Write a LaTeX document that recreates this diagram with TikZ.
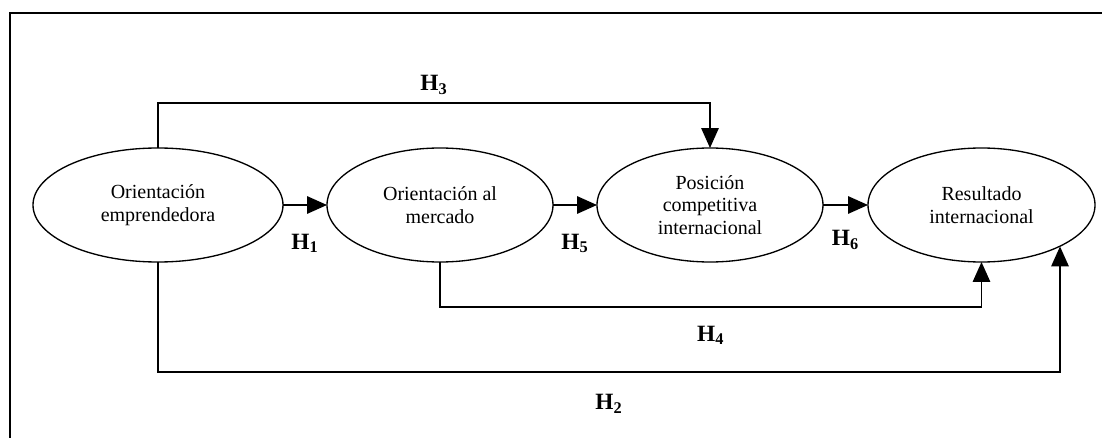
\documentclass[tikz,border=0pt]{standalone}
\usepackage{fontspec}
\setmainfont{Liberation Serif}
\usetikzlibrary{shapes.geometric,arrows.meta}
\tikzset{
    var/.style={draw, ellipse, line width=0.8pt, inner sep=0pt, outer sep=0pt,
        minimum height=68.4pt, align=center, font=\fontsize{12}{13.5}\selectfont},
    conn/.style={line width=0.9pt, -{Triangle[length=12pt,width=10.5pt]}},
    hyp/.style={font=\fontsize{14}{16}\selectfont\bfseries},
}
\newcommand{\hyp}[1]{H\textsubscript{#1}}

\begin{document}
\begin{tikzpicture}[x=0.6pt,y=-0.6pt]
    \clip (0,0) rectangle (1102,438);
    % frame
    \draw[line width=1.2pt] (9.5,13) rectangle (1120,460);

    % constructs
    \node[var, minimum width=150pt] (oe) at (158,205) {Orientación\\emprendedora};
    \node[var, minimum width=135.6pt] (om) at (440,205) {Orientación al\\mercado};
    \node[var, minimum width=135.6pt] (pc) at (710,205) {Posición\\competitiva\\internacional};
    \node[var, minimum width=136.2pt] (ri) at (981.5,205) {Resultado\\internacional};

    % direct paths
    \draw[conn] (oe) -- (om) node[hyp, midway, yshift=-23pt] {\hyp{1}};
    \draw[conn] (om) -- (pc) node[hyp, midway, yshift=-23pt] {\hyp{5}};
    \draw[conn] (pc) -- (ri) node[hyp, midway, yshift=-21pt] {\hyp{6}};

    % bypass paths
    \draw[conn] (oe.north) -- ++(0,-45) -| node[hyp, pos=0.25, yshift=11pt] {\hyp{3}} (pc.north);
    \draw[conn] (om.south) -- ++(0,45) -| node[hyp, pos=0.25, yshift=-17pt] {\hyp{4}} (ri.south);
    \coordinate (h2end) at (1060,372);
    \draw[conn] (oe.south) |- node[hyp, pos=0.75, yshift=-19pt] {\hyp{2}} (h2end) -- (h2end |- ri.-28);
\end{tikzpicture}
\end{document}
